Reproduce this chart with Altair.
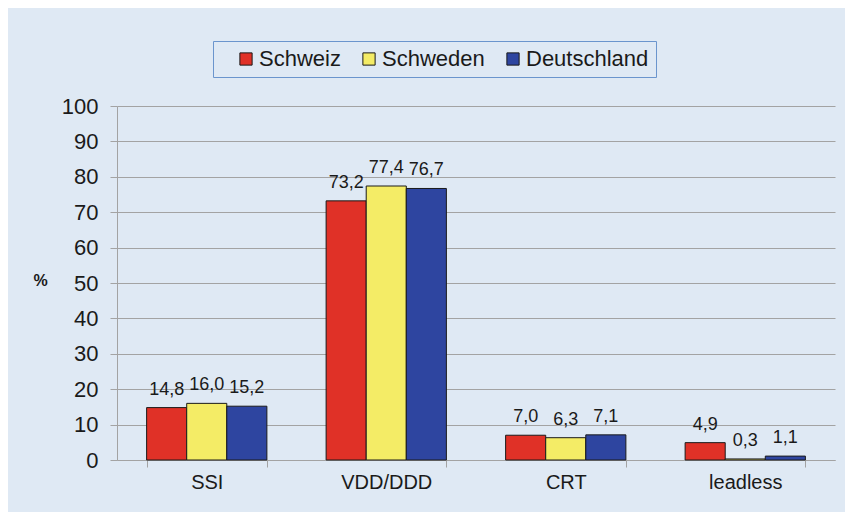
import altair as alt
import pandas as pd

categories = ["SSI", "VDD/DDD", "CRT", "leadless"]
countries = ["Schweiz", "Schweden", "Deutschland"]
schweiz = [14.8, 73.2, 7.0, 4.9]
schweden = [16.0, 77.4, 6.3, 0.3]
deutschland = [15.2, 76.7, 7.1, 1.1]
colors = ["#e03127", "#f4ec66", "#2e45a0"]
y_ticks = [0, 10, 20, 30, 40, 50, 60, 70, 80, 90, 100]

rows = []
for land, vals in zip(countries, [schweiz, schweden, deutschland]):
    for c, v in zip(categories, vals):
        rows.append({"cat": c, "land": land, "value": v})
df = pd.DataFrame(rows)

FONT = "Liberation Sans"
GRID = "#a3a3a3"
BG = "#dfe9f4"

base = alt.Chart(df).encode(
    x=alt.X(
        "cat:N",
        sort=categories,
        scale=alt.Scale(paddingInner=0.33, paddingOuter=0.165),
        axis=alt.Axis(
            title=None,
            labelAngle=0,
            labelFontSize=20,
            labelFont=FONT,
            labelColor="#1a1a1a",
            labelPadding=5,
            domainColor=GRID,
            tickColor=GRID,
            tickSize=7,
            tickBand="extent",
            grid=False,
        ),
    ),
    xOffset=alt.XOffset(
        "land:N", sort=countries, scale=alt.Scale(paddingInner=0, paddingOuter=0)
    ),
    y=alt.Y(
        "value:Q",
        scale=alt.Scale(domain=[0, 100]),
        axis=alt.Axis(
            values=y_ticks,
            title="%",
            titleAngle=0,
            titleX=-77,
            titleY=174,
            titleAlign="center",
            titleBaseline="middle",
            titleFontSize=16,
            titleFontWeight="bold",
            titleFont=FONT,
            titleColor="#1a1a1a",
            labelFontSize=22,
            labelFont=FONT,
            labelColor="#1a1a1a",
            labelPadding=12,
            tickSize=7,
            tickColor=GRID,
            domainColor=GRID,
            gridColor=GRID,
            grid=True,
        ),
    ),
)

bars = base.mark_bar(stroke="#1a1a1a", strokeWidth=1).encode(
    color=alt.Color(
        "land:N",
        sort=countries,
        scale=alt.Scale(domain=countries, range=colors),
        legend=alt.Legend(
            title=None,
            orient="none",
            legendX=96,
            legendY=-65,
            direction="horizontal",
            fillColor=BG,
            strokeColor="#6b95cd",
            padding=7,
            symbolType="square",
            symbolSize=150,
            symbolStrokeColor="#1a1a1a",
            symbolStrokeWidth=1,
            symbolOpacity=1,
            symbolOffset=15,
            labelFontSize=22,
            labelFont=FONT,
            labelColor="#1a1a1a",
            labelOffset=2,
            columnPadding=2,
        ),
    )
)

labels = base.transform_calculate(
    lbl="replace(format(datum.value, '.1f'), '.', ',')"
).mark_text(
    dy=-13, baseline="alphabetic", fontSize=18, font=FONT, color="#1a1a1a"
).encode(text="lbl:N")

chart = (
    alt.layer(bars, labels)
    .properties(
        width=718,
        height=354,
        padding={"left": 109, "top": 98, "right": 10, "bottom": 52},
        autosize=alt.AutoSizeParams(type="none"),
        background=BG,
    )
    .configure_view(stroke=None)
)

chart.save("out.html", embed_options={"renderer": "svg", "actions": False})
